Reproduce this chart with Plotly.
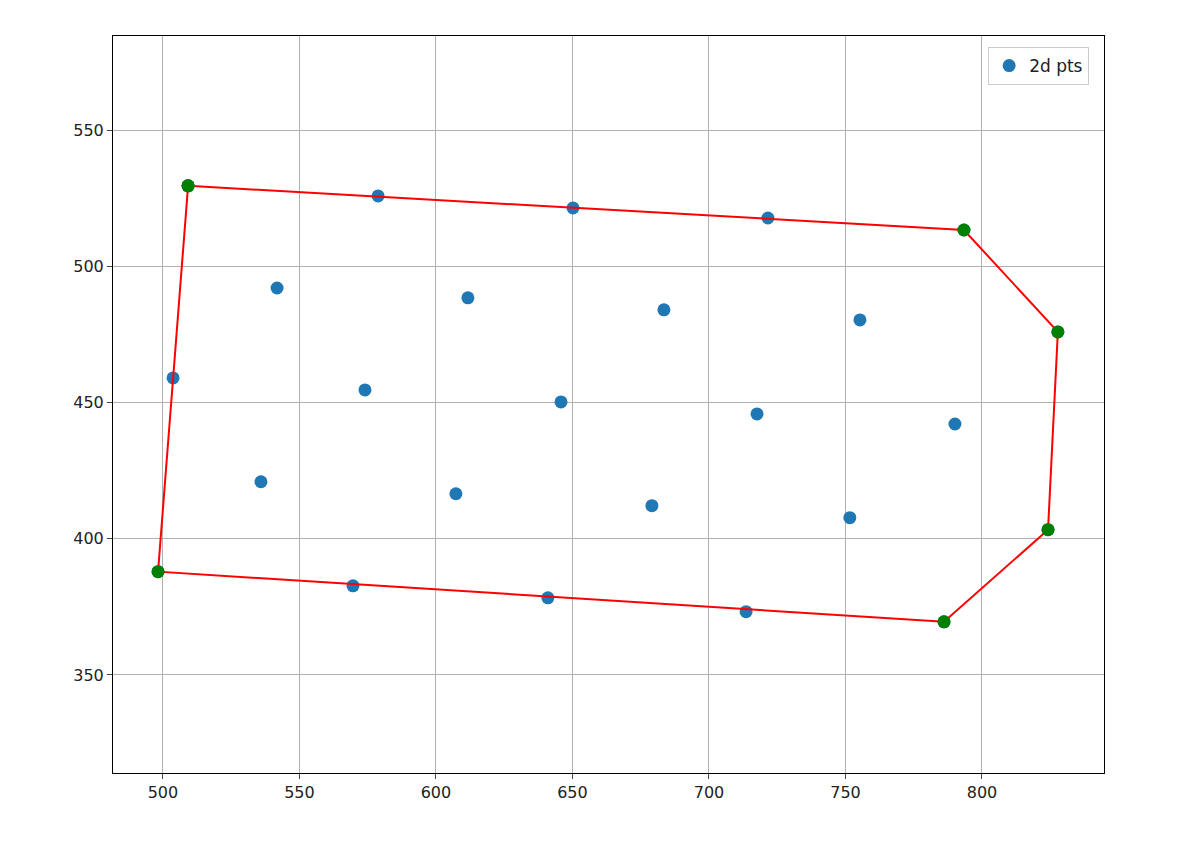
import plotly.graph_objects as go

pts_x = [578.8, 650.2, 721.6, 541.8, 611.7, 683.5, 755.3, 503.7, 574.0, 645.8, 717.6, 790.1, 535.9, 607.3, 679.1, 751.6, 569.6, 641.0, 713.6,
         509.2, 793.4, 827.8, 824.2, 786.1, 498.2]
pts_y = [525.8, 521.4, 517.7, 492.0, 488.4, 484.0, 480.3, 459.0, 454.6, 450.2, 445.8, 442.1, 420.9, 416.5, 412.1, 407.7, 382.7, 378.3, 373.2,
         529.5, 513.3, 475.9, 403.3, 369.5, 387.9]
hull_x = [509.2, 793.4, 827.8, 824.2, 786.1, 498.2, 509.2]
hull_y = [529.5, 513.3, 475.9, 403.3, 369.5, 387.9, 529.5]

fig = go.Figure()
fig.add_trace(go.Scatter(x=pts_x, y=pts_y, mode="markers", name="2d pts",
                         marker=dict(color="#1f77b4", size=13)))
fig.add_trace(go.Scatter(x=hull_x, y=hull_y, mode="lines+markers", showlegend=False,
                         line=dict(color="red", width=2), marker=dict(color="green", size=13)))
ax = dict(showline=True, linecolor="black", mirror=True, ticks="outside", ticklen=5,
          showgrid=True, gridcolor="#b0b0b0", zeroline=False, tickfont=dict(size=16, color="#222"))
fig.update_layout(width=1188, height=865, plot_bgcolor="white", paper_bgcolor="white",
                  margin=dict(l=105, r=92, t=28, b=100), font=dict(family="DejaVu Sans", color="#222"),
                  xaxis=dict(range=[481.7, 844.7], tickvals=[500,550,600,650,700,750,800], **ax),
                  yaxis=dict(range=[314, 584.5], tickvals=[350,400,450,500,550], **ax),
                  legend=dict(x=0.985, y=0.985, xanchor="right", yanchor="top", bordercolor="#ccc",
                              borderwidth=1, font=dict(size=17, color="#222")))
fig.write_html("out.html")
